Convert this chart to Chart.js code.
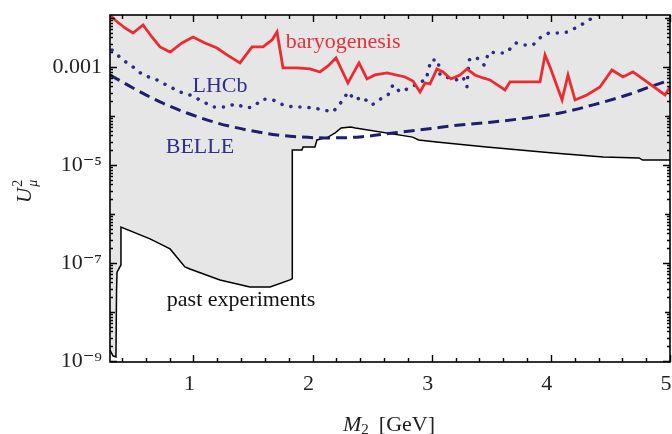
<!DOCTYPE html>
<html>
<head>
<meta charset="utf-8">
<script src="https://cdn.jsdelivr.net/npm/chart.js@4.4.1/dist/chart.umd.min.js"></script>
<style>
  html, body { margin: 0; padding: 0; background: #fff; }
  #wrap { width: 672px; height: 434px; }
</style>
</head>
<body>
<div id="wrap"><canvas id="chart" width="672" height="434"></canvas></div>
<script>
// axis ranges and tick labels
const xMin = 0.3, xMax = 5;
const yMin = 0.95e-9, yMax = 0.0115;
const xTickValues = [1, 2, 3, 4, 5];
const xTickLabels = ['1', '2', '3', '4', '5'];
const yTickValues = [1e-9, 1e-7, 1e-5, 1e-3];
const yTickLabels = ['10⁻⁹', '10⁻⁷', '10⁻⁵', '0.001'];

// past experiments bound (excluded region above it is shaded)
const pastX = [0.300, 0.325, 0.350, 0.355, 0.359, 0.392, 0.392, 0.636, 0.804, 0.929, 0.971, 1.223, 1.475, 1.643,
  1.811, 1.830, 1.830, 1.911, 1.920, 2.020, 2.037, 2.130, 2.190, 2.240, 2.320, 2.360, 2.840, 2.890, 3.040,
  3.460, 4.020, 4.440, 4.740, 4.770, 5.000];
const pastY = [1.67e-9, 1.27e-9, 1.21e-9, 2.8e-8, 6.5e-8, 9.1e-8, 5.4e-7, 3.1e-7, 1.93e-7, 8.3e-8, 7.5e-8, 4.5e-8, 3.24e-8, 3.24e-8,
  4.5e-8, 4.8e-8, 2.02e-5, 2.02e-5, 2.33e-5, 2.33e-5, 3.24e-5, 3.7e-5, 4.5e-5, 5.7e-5, 5.97e-5, 5.7e-5, 3.7e-5, 3.24e-5, 2.94e-5,
  2.33e-5, 1.76e-5, 1.46e-5, 1.39e-5, 1.26e-5, 1.26e-5];

// BELLE sensitivity (dashed)
const belleX = [0.300, 0.493, 0.720, 0.946, 1.198, 1.450, 1.702, 1.895, 2.104, 2.398, 2.675, 2.960, 3.237, 3.514,
  3.800, 4.077, 4.354, 4.639, 4.807, 5.000];
const belleY = [6.87e-4, 3.73e-4, 1.93e-4, 1.15e-4, 7.2e-5, 5.18e-5, 4.09e-5, 3.73e-5, 3.56e-5, 3.73e-5, 4.5e-5, 5.43e-5, 6.55e-5, 7.54e-5,
  9.1e-5, 1.15e-4, 1.68e-4, 2.68e-4, 3.73e-4, 5.43e-4];

// LHCb sensitivity (dotted)
const lhcbX = [0.317, 0.409, 0.493, 0.577, 0.694, 0.804, 0.887, 0.971, 1.055, 1.164, 1.282, 1.349, 1.450, 1.500,
  1.584, 1.668, 1.752, 1.836, 1.920, 2.004, 2.088, 2.172, 2.256, 2.297, 2.356, 2.415, 2.499, 2.583, 2.633,
  2.675, 2.734, 2.835, 2.902, 2.952, 2.994, 3.053, 3.070, 3.145, 3.204, 3.263, 3.296, 3.313, 3.372, 3.439,
  3.481, 3.556, 3.623, 3.707, 3.766, 3.850, 3.917, 3.984, 4.060, 4.144, 4.253, 4.362, 4.454];
const lhcbY = [2.22e-3, 1.39e-3, 1.0e-3, 6.87e-4, 5.43e-4, 3.91e-4, 3.09e-4, 2.68e-4, 2.12e-4, 1.53e-4, 1.53e-4, 1.76e-4, 1.46e-4, 1.53e-4,
  2.22e-4, 2.12e-4, 1.68e-4, 1.53e-4, 1.53e-4, 1.46e-4, 1.33e-4, 1.21e-4, 2.12e-4, 3.09e-4, 2.12e-4, 2.44e-4, 1.68e-4, 2.33e-4, 2.68e-4,
  4.3e-4, 3.09e-4, 3.91e-4, 4.94e-4, 5.43e-4, 1.39e-3, 1.39e-3, 6.87e-4, 5.97e-4, 5.43e-4, 6.25e-4, 3.91e-4, 1.39e-3, 1.6e-3, 1.1e-3,
  2.02e-3, 1.93e-3, 1.93e-3, 3.09e-3, 2.81e-3, 2.81e-3, 4.09e-3, 4.94e-3, 4.94e-3, 5.18e-3, 7.19e-3, 1.05e-2, 1.46e-2];

// baryogenesis bound (red)
const baryoX = [0.300, 0.342, 0.426, 0.493, 0.577, 0.652, 0.720, 0.804, 0.904, 0.997, 1.097, 1.198, 1.282, 1.391,
  1.492, 1.584, 1.660, 1.702, 1.752, 1.869, 1.979, 2.062, 2.130, 2.197, 2.297, 2.390, 2.457, 2.524, 2.625,
  2.776, 2.843, 2.902, 2.944, 2.986, 3.044, 3.095, 3.162, 3.237, 3.296, 3.363, 3.430, 3.489, 3.615, 3.657,
  3.909, 3.951, 3.993, 4.094, 4.144, 4.203, 4.303, 4.412, 4.513, 4.605, 4.689, 4.807, 4.958, 5.000];
const baryoY = [1.15e-2, 9.1e-3, 6.25e-3, 4.94e-3, 7.19e-3, 4.09e-3, 2.56e-3, 2.02e-3, 3.09e-3, 4.09e-3, 3.09e-3, 2.44e-3, 1.76e-3, 1.21e-3,
  2.56e-3, 2.56e-3, 3.56e-3, 5.18e-3, 9.55e-4, 9.55e-4, 9.1e-4, 7.9e-4, 1.05e-3, 1.53e-3, 4.71e-4, 1.21e-3, 5.69e-4, 6.87e-4, 7.55e-4,
  6.25e-4, 5.18e-4, 3.09e-4, 4.71e-4, 4.5e-4, 9.1e-4, 7.9e-4, 5.69e-4, 6.87e-4, 9.1e-4, 6.87e-4, 5.97e-4, 5.43e-4, 3.4e-4, 4.94e-4,
  4.94e-4, 1.76e-3, 1.0e-3, 2.12e-4, 6.87e-4, 2.12e-4, 2.68e-4, 3.91e-4, 8.69e-4, 6.25e-4, 7.9e-4, 4.94e-4, 2.68e-4, 3.91e-4];

// curve labels placed in data coordinates
const labelTexts = ['baryogenesis', 'LHCb', 'BELLE', 'past experiments'];
const labelX = [2.256, 1.223, 1.055, 1.40];
const labelY = [3.24e-3, 4.1e-4, 2.33e-5, 1.76e-8];
const labelColors = ['#e8303a', '#2e2e8c', '#2e2e8c', '#111'];

const serif = "'Liberation Serif', 'DejaVu Serif', serif";

function pts(xs, ys) {
  return xs.map((x, i) => ({ x: x, y: ys[i] }));
}

// frame, inward ticks, curve labels and axis titles
const framePlugin = {
  id: 'frame',
  afterDraw(chart) {
    const ctx = chart.ctx;
    const a = chart.chartArea;
    const xs = chart.scales.x, ys = chart.scales.y;
    ctx.save();
    ctx.strokeStyle = '#000';
    ctx.lineWidth = 1.4;
    // x ticks every 0.2, longer at integers
    for (let k = 2; k <= 25; k++) {
      const v = k / 5;
      const px = Math.round(xs.getPixelForValue(v)) + 0.5;
      const len = (k % 5 === 0) ? 7 : 4;
      ctx.beginPath();
      ctx.moveTo(px, a.bottom); ctx.lineTo(px, a.bottom - len);
      ctx.moveTo(px, a.top); ctx.lineTo(px, a.top + len);
      ctx.stroke();
    }
    // y ticks: labelled decades long, other decades medium, 2..9 short
    for (let e = -10; e <= -2; e++) {
      for (let m = 1; m <= 9; m++) {
        const v = m * Math.pow(10, e);
        if (v < yMin || v > yMax) continue;
        const py = Math.round(ys.getPixelForValue(v)) + 0.5;
        let len = 3;
        if (m === 1) len = (e % 2 !== 0) ? 7 : 5;
        ctx.beginPath();
        ctx.moveTo(a.left, py); ctx.lineTo(a.left + len, py);
        ctx.moveTo(a.right, py); ctx.lineTo(a.right - len, py);
        ctx.stroke();
      }
    }
    ctx.lineWidth = 1.6;
    ctx.strokeRect(a.left, a.top, a.right - a.left, a.bottom - a.top);

    // curve labels
    ctx.font = '22px ' + serif;
    ctx.textAlign = 'center';
    ctx.textBaseline = 'middle';
    labelTexts.forEach((t, i) => {
      ctx.fillStyle = labelColors[i];
      ctx.fillText(t, xs.getPixelForValue(labelX[i]), ys.getPixelForValue(labelY[i]));
    });

    // x title: M_2 [GeV]
    ctx.fillStyle = '#222';
    ctx.textAlign = 'left';
    ctx.textBaseline = 'alphabetic';
    const tx = 343, ty = 431;
    ctx.font = 'italic 22px ' + serif;
    ctx.fillText('M', tx, ty);
    let w = ctx.measureText('M').width;
    ctx.font = '15px ' + serif;
    ctx.fillText('2', tx + w, ty + 3);
    w += ctx.measureText('2').width;
    ctx.font = '22px ' + serif;
    ctx.fillText('[GeV]', tx + w + 10, ty);

    // y title: U^2_mu (rotated)
    ctx.translate(31, 203);
    ctx.rotate(-Math.PI / 2);
    ctx.font = 'italic 21px ' + serif;
    ctx.fillText('U', 0, 0);
    const uw = ctx.measureText('U').width;
    ctx.font = '14px ' + serif;
    ctx.fillText('2', uw + 1, -9);
    ctx.font = 'italic 14px ' + serif;
    ctx.fillText('μ', uw + 1, 6);
    ctx.restore();
  }
};

new Chart(document.getElementById('chart'), {
  type: 'line',
  data: {
    datasets: [
      {
        label: 'baryogenesis',
        data: pts(baryoX, baryoY),
        borderColor: '#ec2a30',
        borderWidth: 2.8,
        pointRadius: 0,
        fill: false,
        order: 1
      },
      {
        label: 'LHCb',
        data: pts(lhcbX, lhcbY),
        borderColor: '#2b2b88',
        borderWidth: 3.5,
        borderDash: [0.1, 9],
        borderCapStyle: 'round',
        pointRadius: 0,
        fill: false,
        order: 2
      },
      {
        label: 'BELLE',
        data: pts(belleX, belleY),
        borderColor: '#1e1e6e',
        borderWidth: 3,
        borderDash: [11, 6],
        pointRadius: 0,
        cubicInterpolationMode: 'monotone',
        fill: false,
        order: 3
      },
      {
        label: 'past experiments',
        data: pts(pastX, pastY),
        borderColor: '#000',
        borderWidth: 1.5,
        backgroundColor: '#e6e6e6',
        pointRadius: 0,
        fill: 'end',
        order: 4
      }
    ]
  },
  options: {
    responsive: false,
    animation: false,
    devicePixelRatio: 1,
    layout: { padding: { top: 15, right: 2, left: 0, bottom: 0 } },
    plugins: {
      legend: { display: false },
      tooltip: { enabled: false }
    },
    elements: { line: { tension: 0 } },
    scales: {
      x: {
        type: 'linear',
        min: xMin,
        max: xMax,
        grid: { display: false, drawTicks: false },
        border: { display: false },
        afterBuildTicks: (s) => { s.ticks = xTickValues.map(v => ({ value: v })); },
        afterFit: (s) => {
          s.height = 72;
          s.paddingLeft = 0; s.paddingRight = 0; s.paddingTop = 0; s.paddingBottom = 0;
        },
        ticks: {
          padding: 9,
          labelOffset: -4,
          color: '#222',
          font: { family: serif, size: 22 },
          callback: (v) => xTickLabels[xTickValues.indexOf(v)]
        }
      },
      y: {
        type: 'logarithmic',
        min: yMin,
        max: yMax,
        grid: { display: false, drawTicks: false },
        border: { display: false },
        afterBuildTicks: (s) => { s.ticks = yTickValues.map(v => ({ value: v })); },
        afterFit: (s) => {
          s.width = 110;
          s.paddingLeft = 0; s.paddingRight = 0; s.paddingTop = 0; s.paddingBottom = 0;
        },
        ticks: {
          padding: 8,
          color: '#222',
          font: { family: serif, size: 22 },
          callback: (v) => {
            const i = yTickValues.findIndex(t => Math.abs(t - v) / t < 1e-6);
            return i >= 0 ? yTickLabels[i] : '';
          }
        }
      }
    }
  },
  plugins: [framePlugin]
});
</script>
</body>
</html>
